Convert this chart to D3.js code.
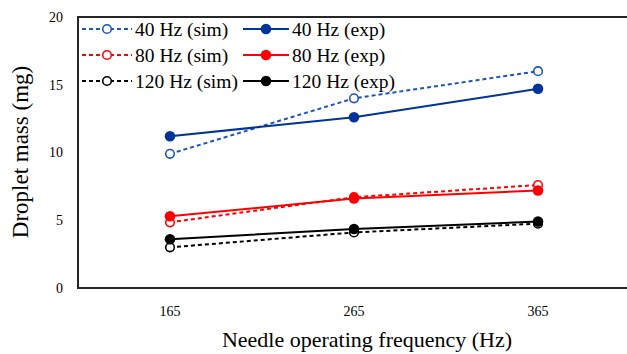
<!DOCTYPE html>
<html>
<head>
<meta charset="utf-8">
<script src="https://cdn.jsdelivr.net/npm/d3@7"></script>
<style>
  html, body { margin: 0; padding: 0; background: #fff; }
  svg { display: block; font-family: "Times New Roman", "Liberation Serif", serif; }
</style>
</head>
<body>
<div id="chart-container"></div>
<script>
// data
const frequencies = ["165", "265", "365"];
const yTicks = [0, 5, 10, 15, 20];

const sim40 = [9.9, 14.0, 16.0];
const exp40 = [11.2, 12.6, 14.7];
const sim80 = [4.85, 6.7, 7.6];
const exp80 = [5.3, 6.6, 7.2];
const sim120 = [3.0, 4.1, 4.75];
const exp120 = [3.6, 4.35, 4.9];

const seriesNames = ["40 Hz (sim)", "40 Hz (exp)", "80 Hz (sim)", "80 Hz (exp)", "120 Hz (sim)", "120 Hz (exp)"];

const width = 627, height = 354;
const margin = {top: 17, right: -3, bottom: 66, left: 78};

const series = [
  {name: seriesNames[0], values: sim40, color: "#1d56b8", sim: true},
  {name: seriesNames[1], values: exp40, color: "#00349a", sim: false},
  {name: seriesNames[2], values: sim80, color: "#ff0000", sim: true},
  {name: seriesNames[3], values: exp80, color: "#ff0000", sim: false},
  {name: seriesNames[4], values: sim120, color: "#000000", sim: true},
  {name: seriesNames[5], values: exp120, color: "#000000", sim: false}
];

const svg = d3.select("#chart-container")
  .append("svg")
  .attr("width", width)
  .attr("height", height);

const x = d3.scaleBand()
  .domain(frequencies)
  .range([margin.left, width - margin.right]);

const y = d3.scaleLinear()
  .domain([0, 20])
  .range([height - margin.bottom, margin.top]);

// frame (right side runs off the picture)
svg.append("rect")
  .attr("x", margin.left)
  .attr("y", margin.top)
  .attr("width", width - margin.right - margin.left)
  .attr("height", y(0) - margin.top)
  .attr("fill", "none")
  .attr("stroke", "#262626")
  .attr("stroke-width", 2);

// axes, labels only
const yAxis = d3.axisLeft(y).tickValues(yTicks).tickSize(0).tickPadding(15);
const xAxis = d3.axisBottom(x).tickSize(0).tickPadding(18);

const styleAxis = g => {
  g.attr("font-family", null).attr("font-size", 14);
  g.select(".domain").remove();
  g.selectAll("text").attr("fill", "#000");
};

svg.append("g")
  .attr("transform", `translate(${margin.left},0)`)
  .call(yAxis)
  .call(styleAxis);

svg.append("g")
  .attr("transform", `translate(0,${y(0)})`)
  .call(xAxis)
  .call(styleAxis);

// lines + markers
const line = d3.line()
  .x((d, i) => x(frequencies[i]) + x.bandwidth() / 2)
  .y(d => y(d));

series.forEach(s => {
  svg.append("path")
    .datum(s.values)
    .attr("d", line)
    .attr("fill", "none")
    .attr("stroke", s.color)
    .attr("stroke-width", 2)
    .attr("stroke-dasharray", s.sim ? "4,3" : null);

  svg.append("g")
    .selectAll("circle")
    .data(s.values)
    .join("circle")
      .attr("cx", (d, i) => x(frequencies[i]) + x.bandwidth() / 2)
      .attr("cy", d => y(d))
      .attr("r", s.sim ? 4.3 : 5.3)
      .attr("fill", s.sim ? "#fff" : s.color)
      .attr("stroke", s.color)
      .attr("stroke-width", s.sim ? 1.6 : 0);
});

// legend, two columns x three rows
const legend = svg.append("g");
series.forEach((s, i) => {
  const col = i % 2, row = Math.floor(i / 2);
  const lx = col === 0 ? 82 : 243;
  const lw = col === 0 ? 50 : 46;
  const ly = 29 + row * 26;
  const g = legend.append("g").attr("transform", `translate(${lx},${ly})`);
  g.append("line")
    .attr("x1", 0).attr("x2", lw)
    .attr("stroke", s.color)
    .attr("stroke-width", 2)
    .attr("stroke-dasharray", s.sim ? "4,3" : null);
  g.append("circle")
    .attr("cx", lw / 2)
    .attr("r", s.sim ? 4.3 : 5.3)
    .attr("fill", s.sim ? "#fff" : s.color)
    .attr("stroke", s.color)
    .attr("stroke-width", s.sim ? 1.6 : 0);
  g.append("text")
    .attr("x", lw + 3)
    .attr("dy", "0.35em")
    .attr("font-size", 19.5)
    .text(s.name);
});

// axis titles
svg.append("text")
  .attr("x", 367)
  .attr("y", 347)
  .attr("text-anchor", "middle")
  .attr("font-size", 22)
  .text("Needle operating frequency (Hz)");

svg.append("text")
  .attr("transform", `translate(28,152) rotate(-90)`)
  .attr("text-anchor", "middle")
  .attr("font-size", 23)
  .text("Droplet mass (mg)");
</script>
</body>
</html>
